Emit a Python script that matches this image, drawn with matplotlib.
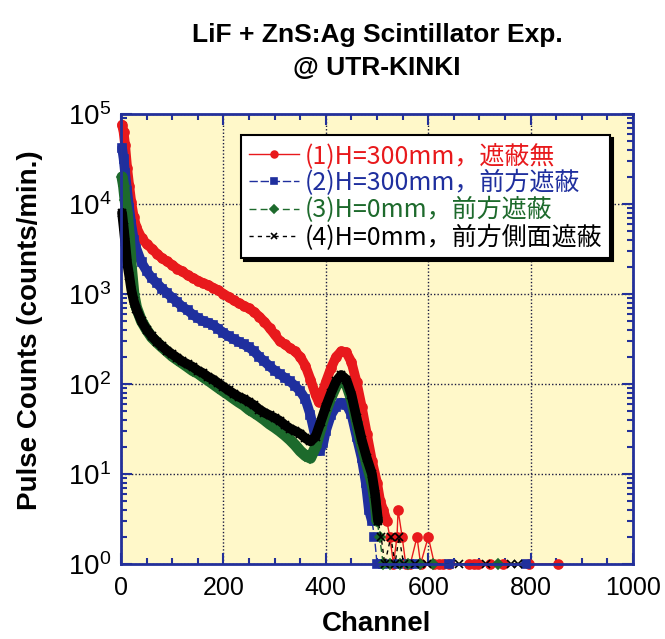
import matplotlib
matplotlib.use("Agg")
import matplotlib.pyplot as plt
from matplotlib.ticker import MultipleLocator, LogLocator, NullFormatter

plt.rcParams['font.family'] = ['Liberation Sans', 'DejaVu Sans']
plt.rcParams['mathtext.fontset'] = 'custom'
plt.rcParams['mathtext.rm'] = 'Liberation Sans'

# Data (channel, counts/min)
red_ch = [2, 5, 8, 12, 16, 20, 25, 30, 40, 50, 60, 70, 80, 90, 100, 110, 120, 130,
          140, 150, 160, 170, 180, 190, 200, 210, 220, 230, 240, 250, 260, 270, 280,
          290, 300, 310, 320, 330, 340, 350, 360, 370, 380, 386, 392, 400, 410, 420,
          430, 440, 450, 460, 470, 480, 490, 500, 506, 512, 519, 525, 532, 539, 541,
          549, 556, 565, 578, 585, 600, 612, 620, 628, 640, 680, 690, 698, 720, 746,
          796, 853]
red_counts = [76000, 63000, 45000, 25000, 16000, 10500, 7100, 5500, 4200, 3600, 3200,
              2800, 2500, 2300, 2100, 1900, 1780, 1620, 1510, 1410, 1320, 1260, 1170,
              1100, 1000, 930, 850, 790, 740, 690, 630, 560, 490, 420, 355, 300, 275,
              250, 230, 200, 160, 112, 76, 63, 76, 105, 150, 200, 230, 225, 175, 105,
              56, 28, 14, 8, 5, 4, 3, 2, 1, 2, 4, 2, 1, 1, 2, 1, 2, 1, 1, 1, 1, 1, 1,
              1, 1, 1, 1, 1]

blue_ch = [2, 5, 8, 12, 16, 20, 25, 30, 40, 50, 60, 70, 80, 90, 100, 110, 120, 130,
           140, 150, 160, 170, 180, 190, 200, 210, 220, 230, 240, 250, 260, 270, 280,
           290, 300, 310, 320, 330, 340, 350, 360, 370, 380, 388, 395, 400, 410, 420,
           430, 440, 450, 460, 470, 478, 484, 490, 495, 500, 512, 540, 562, 578, 640,
           790]
blue_counts = [42000, 32000, 22000, 14000, 9000, 6000, 4000, 3200, 2240, 1800, 1500,
               1320, 1150, 1020, 910, 810, 720, 660, 590, 540, 500, 480, 450, 410, 370,
               340, 315, 295, 275, 255, 230, 200, 178, 158, 141, 129, 117, 107, 95, 83,
               68, 45, 25, 18, 22, 30, 45, 56, 62, 59, 46, 26, 15, 8, 4, 3, 2, 1, 1, 1,
               1, 1, 1, 1]

green_ch = [2, 5, 8, 12, 16, 20, 25, 30, 40, 50, 60, 70, 80, 90, 100, 110, 120, 130,
            140, 150, 160, 170, 180, 190, 200, 210, 220, 230, 240, 250, 260, 270, 280,
            290, 300, 310, 320, 330, 340, 350, 360, 370, 380, 390, 400, 410, 420, 430,
            440, 450, 460, 470, 480, 490, 496, 500, 505, 512, 525, 544, 560, 583, 610,
            737]
green_counts = [20000, 16000, 11000, 8000, 4500, 2000, 1000, 710, 500, 400, 330, 290,
                257, 229, 204, 186, 170, 155, 141, 132, 120, 110, 100, 91, 83, 76, 69,
                63, 58, 52, 48, 44, 40, 36, 33, 30, 27, 24, 21, 18, 16, 15, 20, 32, 50,
                71, 95, 112, 100, 68, 38, 21, 13, 8, 5, 3, 2, 1, 1, 1, 1, 1, 1, 1]

black_ch = [2, 5, 8, 12, 16, 20, 25, 30, 40, 50, 60, 70, 80, 90, 100, 110, 120, 130,
            140, 150, 160, 170, 180, 190, 200, 210, 220, 230, 240, 250, 260, 270, 280,
            290, 300, 310, 320, 330, 340, 350, 360, 370, 380, 390, 400, 410, 420, 430,
            440, 450, 460, 470, 480, 490, 496, 502, 508, 515, 527, 535, 543, 552, 575,
            597, 660, 712, 762, 775]
black_counts = [8000, 5600, 3800, 2200, 1600, 1120, 830, 680, 500, 400, 340, 295, 263,
                234, 214, 195, 178, 166, 155, 141, 132, 120, 112, 102, 93, 85, 78, 72,
                68, 63, 58, 52, 48, 45, 42, 39, 35, 32, 30, 28, 25, 23, 26, 38, 56, 79,
                107, 126, 112, 76, 42, 24, 15, 10, 6, 3, 2, 1, 2, 1, 2, 1, 1, 1, 1, 1,
                1, 1]

labels = ['(1)H=300mm，遮蔽無', '(2)H=300mm，前方遮蔽',
          '(3)H=0mm，前方遮蔽', '(4)H=0mm，前方側面遮蔽']
colors = ['#e8191c', '#1f2f9e', '#1d6a2c', '#000000']

navy = '#23309a'

fig = plt.figure(figsize=(6.65, 6.39), dpi=100)
ax = fig.add_axes([0.182, 0.1174, 0.770, 0.7042])
ax.set_facecolor('#fff8c9')

series = [
    (red_ch, red_counts, 'o', 6.5, '-', 7, 59),
    (blue_ch, blue_counts, 's', 6, (0, (6, 2)), 7, 56),
    (green_ch, green_counts, 'D', 5.5, (0, (5, 3)), 8, 56),
    (black_ch, black_counts, 'x', 6, (0, (3, 3)), 7, 56),
]
for (ch, cnt, mk, ms, ls, band, nbody), lab, c in zip(series, labels, colors):
    # dense per-channel points merge into a band in the original
    ax.plot(ch[:nbody], cnt[:nbody], color=c, lw=band, solid_joinstyle='round',
            solid_capstyle='round', label='_nolegend_', clip_on=False)
    ax.plot(ch, cnt, color=c, marker=mk, ms=ms, mew=1.2, lw=1, linestyle=ls,
            label=lab, clip_on=False)

ax.set_yscale('log')
ax.set_xlim(0, 1000)
ax.set_ylim(1, 1e5)
ax.xaxis.set_major_locator(MultipleLocator(200))
ax.xaxis.set_minor_locator(MultipleLocator(50))
ax.yaxis.set_minor_locator(LogLocator(base=10, subs=range(2, 10)))
ax.yaxis.set_minor_formatter(NullFormatter())

for s in ax.spines.values():
    s.set_color(navy)
    s.set_linewidth(2)
    s.set_zorder(5)
ax.tick_params(which='both', direction='in', top=True, right=True, color=navy,
               width=1.5)
ax.tick_params(which='major', length=8, labelsize=18, pad=9)
ax.tick_params(which='minor', length=4)
ax.tick_params(axis='y', labelsize=20, pad=7)
ax.grid(True, which='major', linestyle=(0, (1, 1.5)), color='#1a1a40', linewidth=1)

leg = ax.legend(loc='upper right', bbox_to_anchor=(0.955, 0.953), borderaxespad=0,
                prop={'family': ['Noto Sans CJK JP', 'DejaVu Sans'], 'size': 18},
                fancybox=False, edgecolor='black', framealpha=1, numpoints=1,
                handlelength=2.0, handletextpad=0.25, labelspacing=0.05,
                borderpad=0.3, markerscale=0.75,
                shadow={'color': 'black', 'alpha': 1})
leg.get_frame().set_linewidth(1.5)
leg.set_zorder(10)
for txt, c in zip(leg.get_texts(), colors):
    txt.set_color(c)

fig.text(377 / 665, 1 - 42 / 639, 'LiF + ZnS:Ag Scintillator Exp.', ha='center',
         va='baseline', fontsize=19, fontweight='bold')
fig.text(377 / 665, 1 - 75 / 639, '@ UTR-KINKI', ha='center', va='baseline',
         fontsize=19, fontweight='bold')
fig.text(30 / 665, 0.484, 'Pulse Counts (counts/min.)', rotation=90, ha='center',
         va='center', fontsize=20, fontweight='bold')
fig.text(377 / 665, 1 - 624 / 639, 'Channel', ha='center', va='center',
         fontsize=20, fontweight='bold')

fig.savefig('out.png', dpi=100)
